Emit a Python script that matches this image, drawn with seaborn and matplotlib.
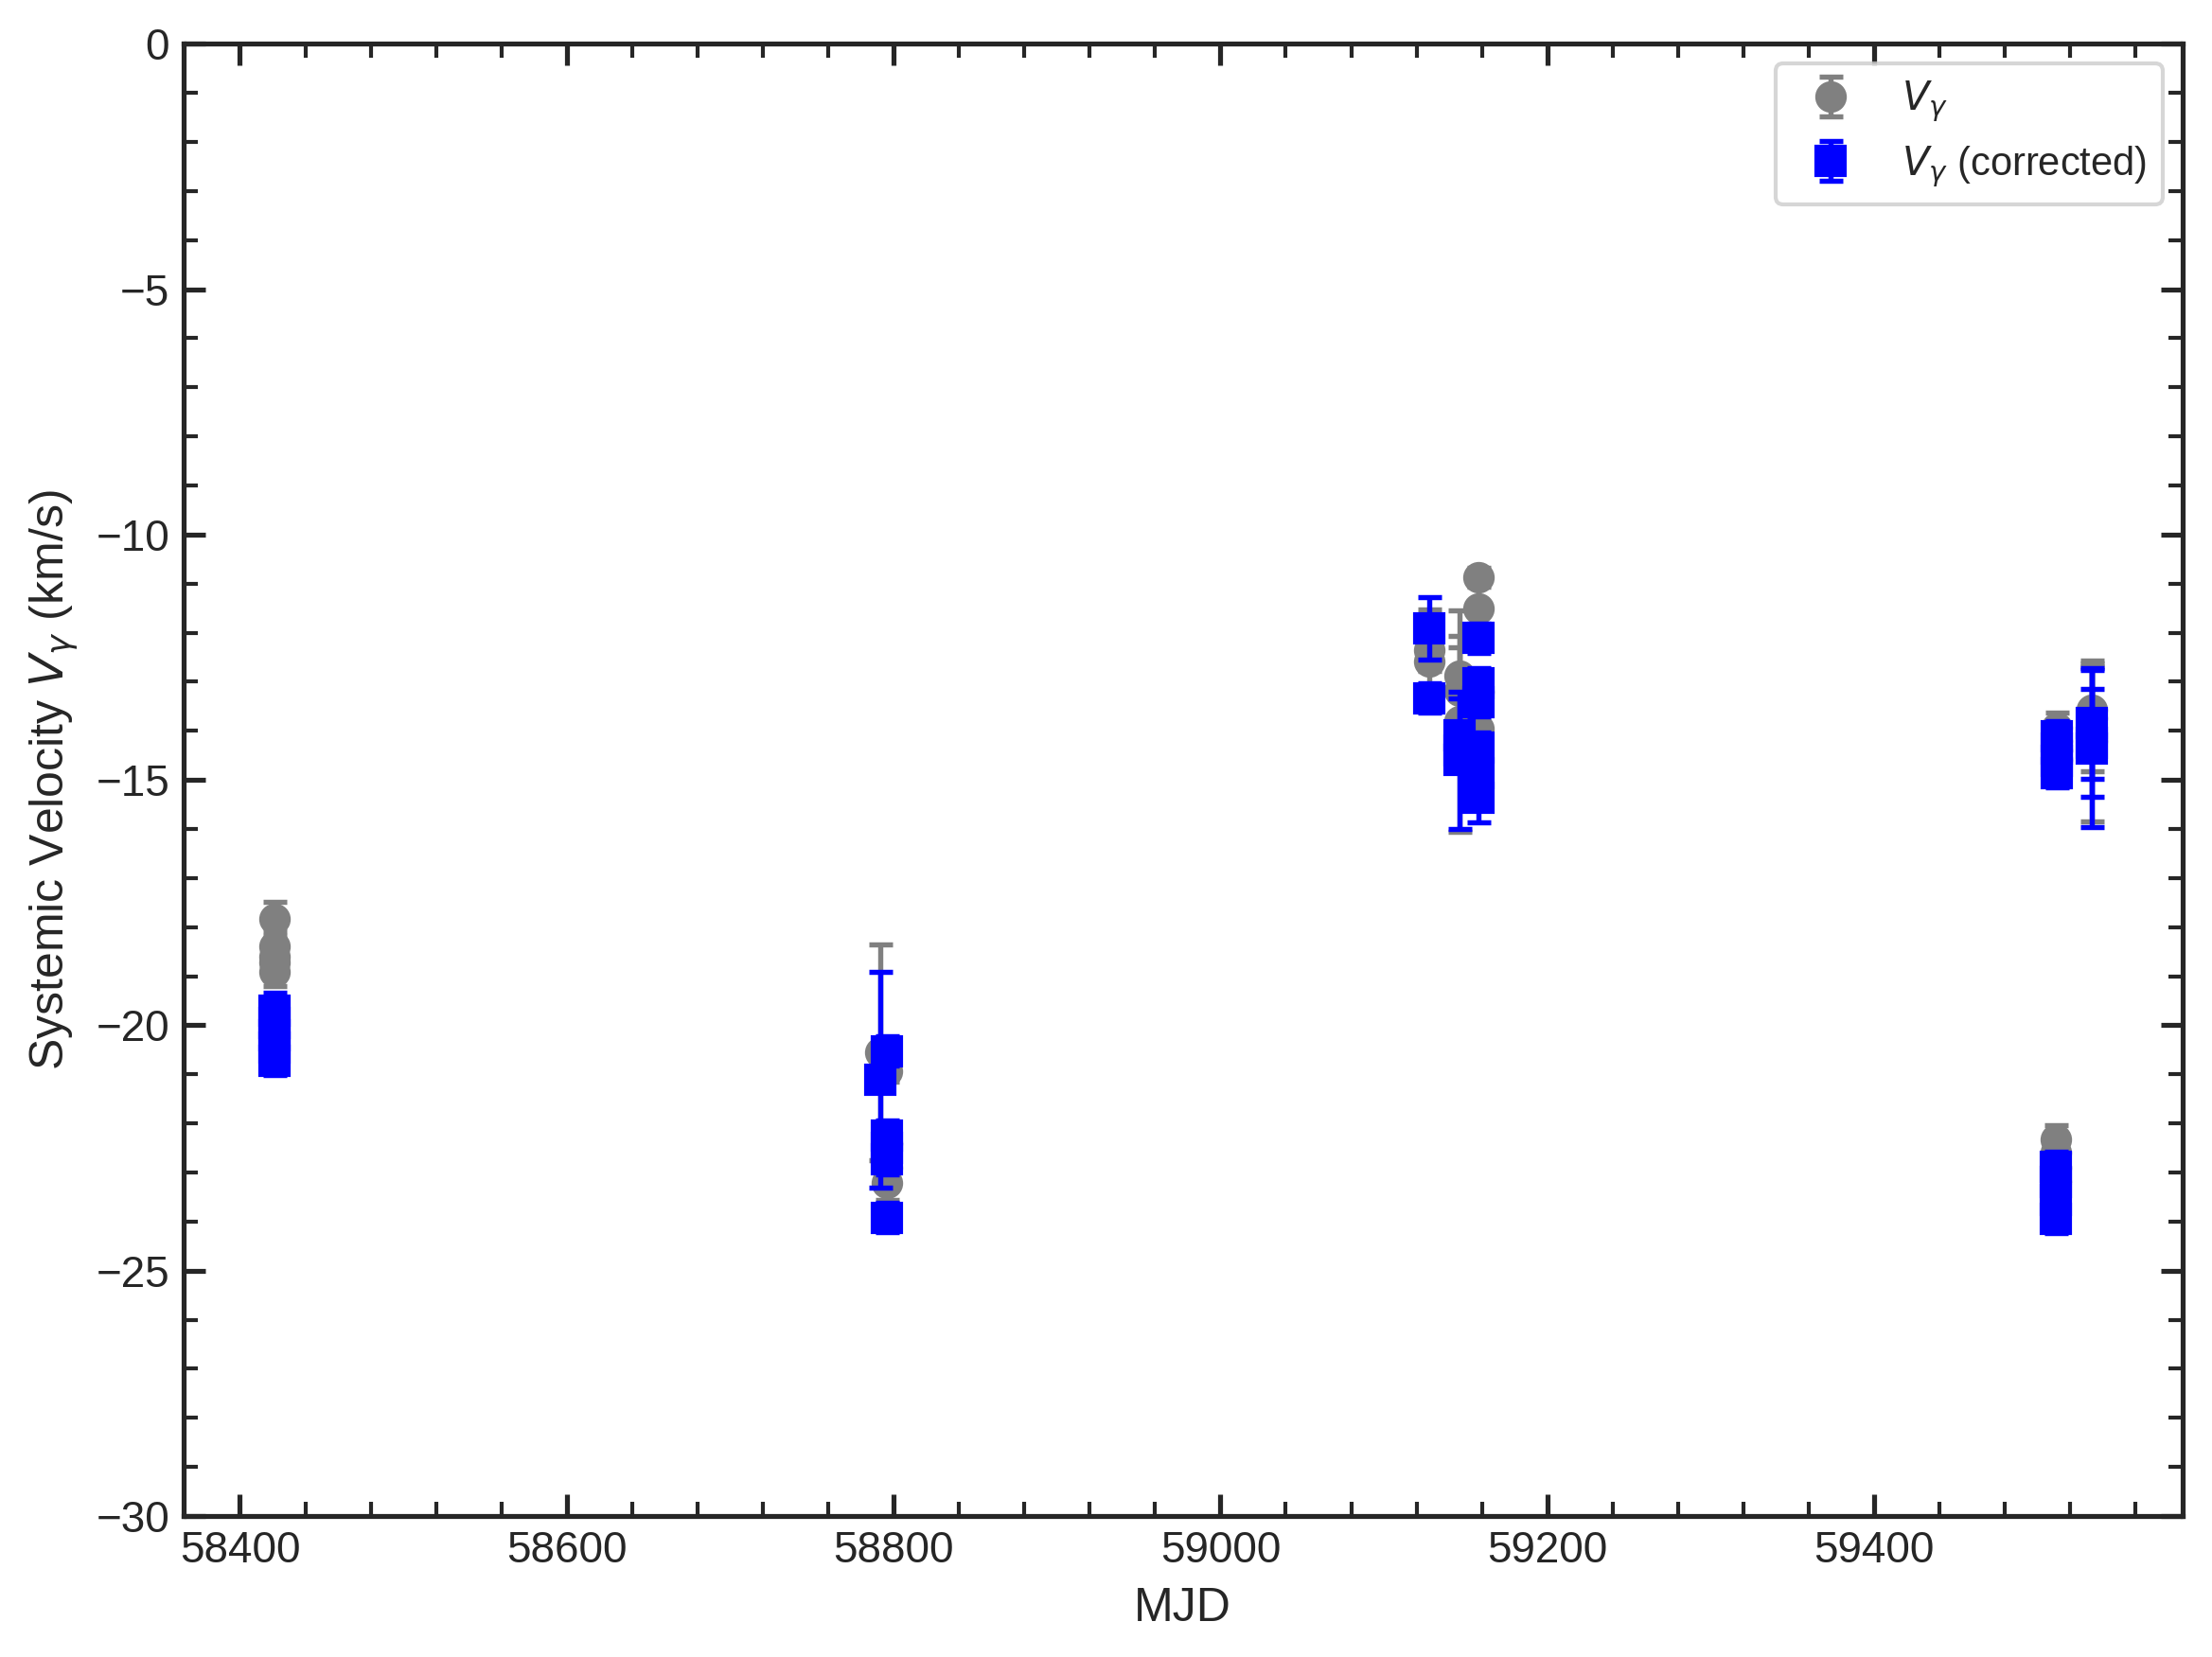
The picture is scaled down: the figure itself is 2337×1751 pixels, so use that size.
import matplotlib
matplotlib.use("Agg")
import matplotlib.pyplot as plt
from matplotlib.ticker import MultipleLocator
import seaborn as sns
import numpy as np

# raw systemic velocities (grey circles)
mjd_raw = [58421, 58421, 58421, 58421, 58421,
           58792, 58796, 58796, 58796, 58796,
           59128, 59128, 59146, 59146, 59146, 59158, 59158, 59158, 59158,
           59512, 59512, 59512, 59512, 59533, 59533, 59533,
           59511, 59511, 59511, 59511]
v_raw = [-17.83, -18.39, -18.71, -18.91, -18.6,
         -20.55, -20.93, -22.4, -22.9, -23.21,
         -12.35, -12.58, -12.87, -13.19, -13.8, -10.87, -11.5, -13.2, -13.96,
         -13.93, -14.2, -14.4, -14.6, -13.57, -13.75, -14.2,
         -22.33, -22.6, -22.9, -23.2]
err_raw = [0.35, 0.3, 0.3, 0.3, 0.3,
           2.2, 0.22, 0.3, 0.3, 0.35,
           0.82, 0.2, 0.8, 0.9, 2.25, 0.2, 0.6, 0.3, 0.3,
           0.3, 0.3, 0.3, 0.3, 0.95, 1.07, 1.64,
           0.3, 0.3, 0.3, 0.3]

# corrected velocities (blue squares)
mjd_cor = [58421, 58421, 58421, 58421, 58421,
           58796, 58792, 58796, 58796, 58796, 58796,
           59128, 59128, 59146, 59146, 59146, 59158, 59158, 59158, 59158, 59158, 59158,
           59512, 59512, 59512, 59512, 59533, 59533, 59533,
           59511, 59511, 59511, 59511]
v_cor = [-19.7, -19.95, -20.2, -20.45, -20.72,
         -20.53, -21.11, -22.24, -22.5, -22.74, -23.92,
         -11.91, -13.33, -14.09, -14.4, -14.6, -12.11, -13.03, -13.41, -14.34, -14.86, -15.37,
         -14.11, -14.36, -14.61, -14.86, -13.85, -14.24, -14.37,
         -22.88, -23.2, -23.55, -23.94]
err_cor = [0.36, 0.3, 0.3, 0.3, 0.3,
           0.3, 2.2, 0.3, 0.3, 0.3, 0.3,
           0.64, 0.3, 0.75, 0.3, 1.4, 0.3, 0.3, 0.3, 0.3, 0.3, 0.5,
           0.3, 0.3, 0.3, 0.3, 1.12, 1.1, 1.6,
           0.3, 0.3, 0.3, 0.3]

sns.set_theme(context="notebook", style="ticks")
plt.rcParams["font.family"] = ["Liberation Sans", "DejaVu Sans"]
plt.rcParams["xtick.direction"] = "in"
plt.rcParams["ytick.direction"] = "in"

fig = plt.figure(figsize=(2337 / 300, 1751 / 300), dpi=300)
ax = fig.add_axes([0.0829, 0.0851, 0.9037, 0.8885])

ax.errorbar(mjd_raw, v_raw, yerr=err_raw, fmt="o", color="gray", ms=7,
            capsize=3, elinewidth=1.3, capthick=1.3, label=r"$V_\gamma$", zorder=2)
ax.errorbar(mjd_cor, v_cor, yerr=err_cor, fmt="s", color="blue", ms=7,
            capsize=3, elinewidth=1.3, capthick=1.3, label=r"$V_\gamma$ (corrected)", zorder=3)

ax.set_ylim(-30, 0)
ax.xaxis.set_major_locator(MultipleLocator(200))
ax.xaxis.set_minor_locator(MultipleLocator(40))
ax.yaxis.set_major_locator(MultipleLocator(5))
ax.yaxis.set_minor_locator(MultipleLocator(1))
ax.tick_params(which="both", top=True, right=True, direction="in")
ax.tick_params(which="major", length=5.5, width=1.25)
ax.tick_params(which="minor", length=3.5, width=1.0)
for s in ax.spines.values():
    s.set_linewidth(1.25)

ax.set_xlabel("MJD")
ax.set_ylabel(r"Systemic Velocity $V_\gamma$ (km/s)")
ax.legend(loc="upper right", fontsize=10)

fig.savefig("out.png", dpi=300)
